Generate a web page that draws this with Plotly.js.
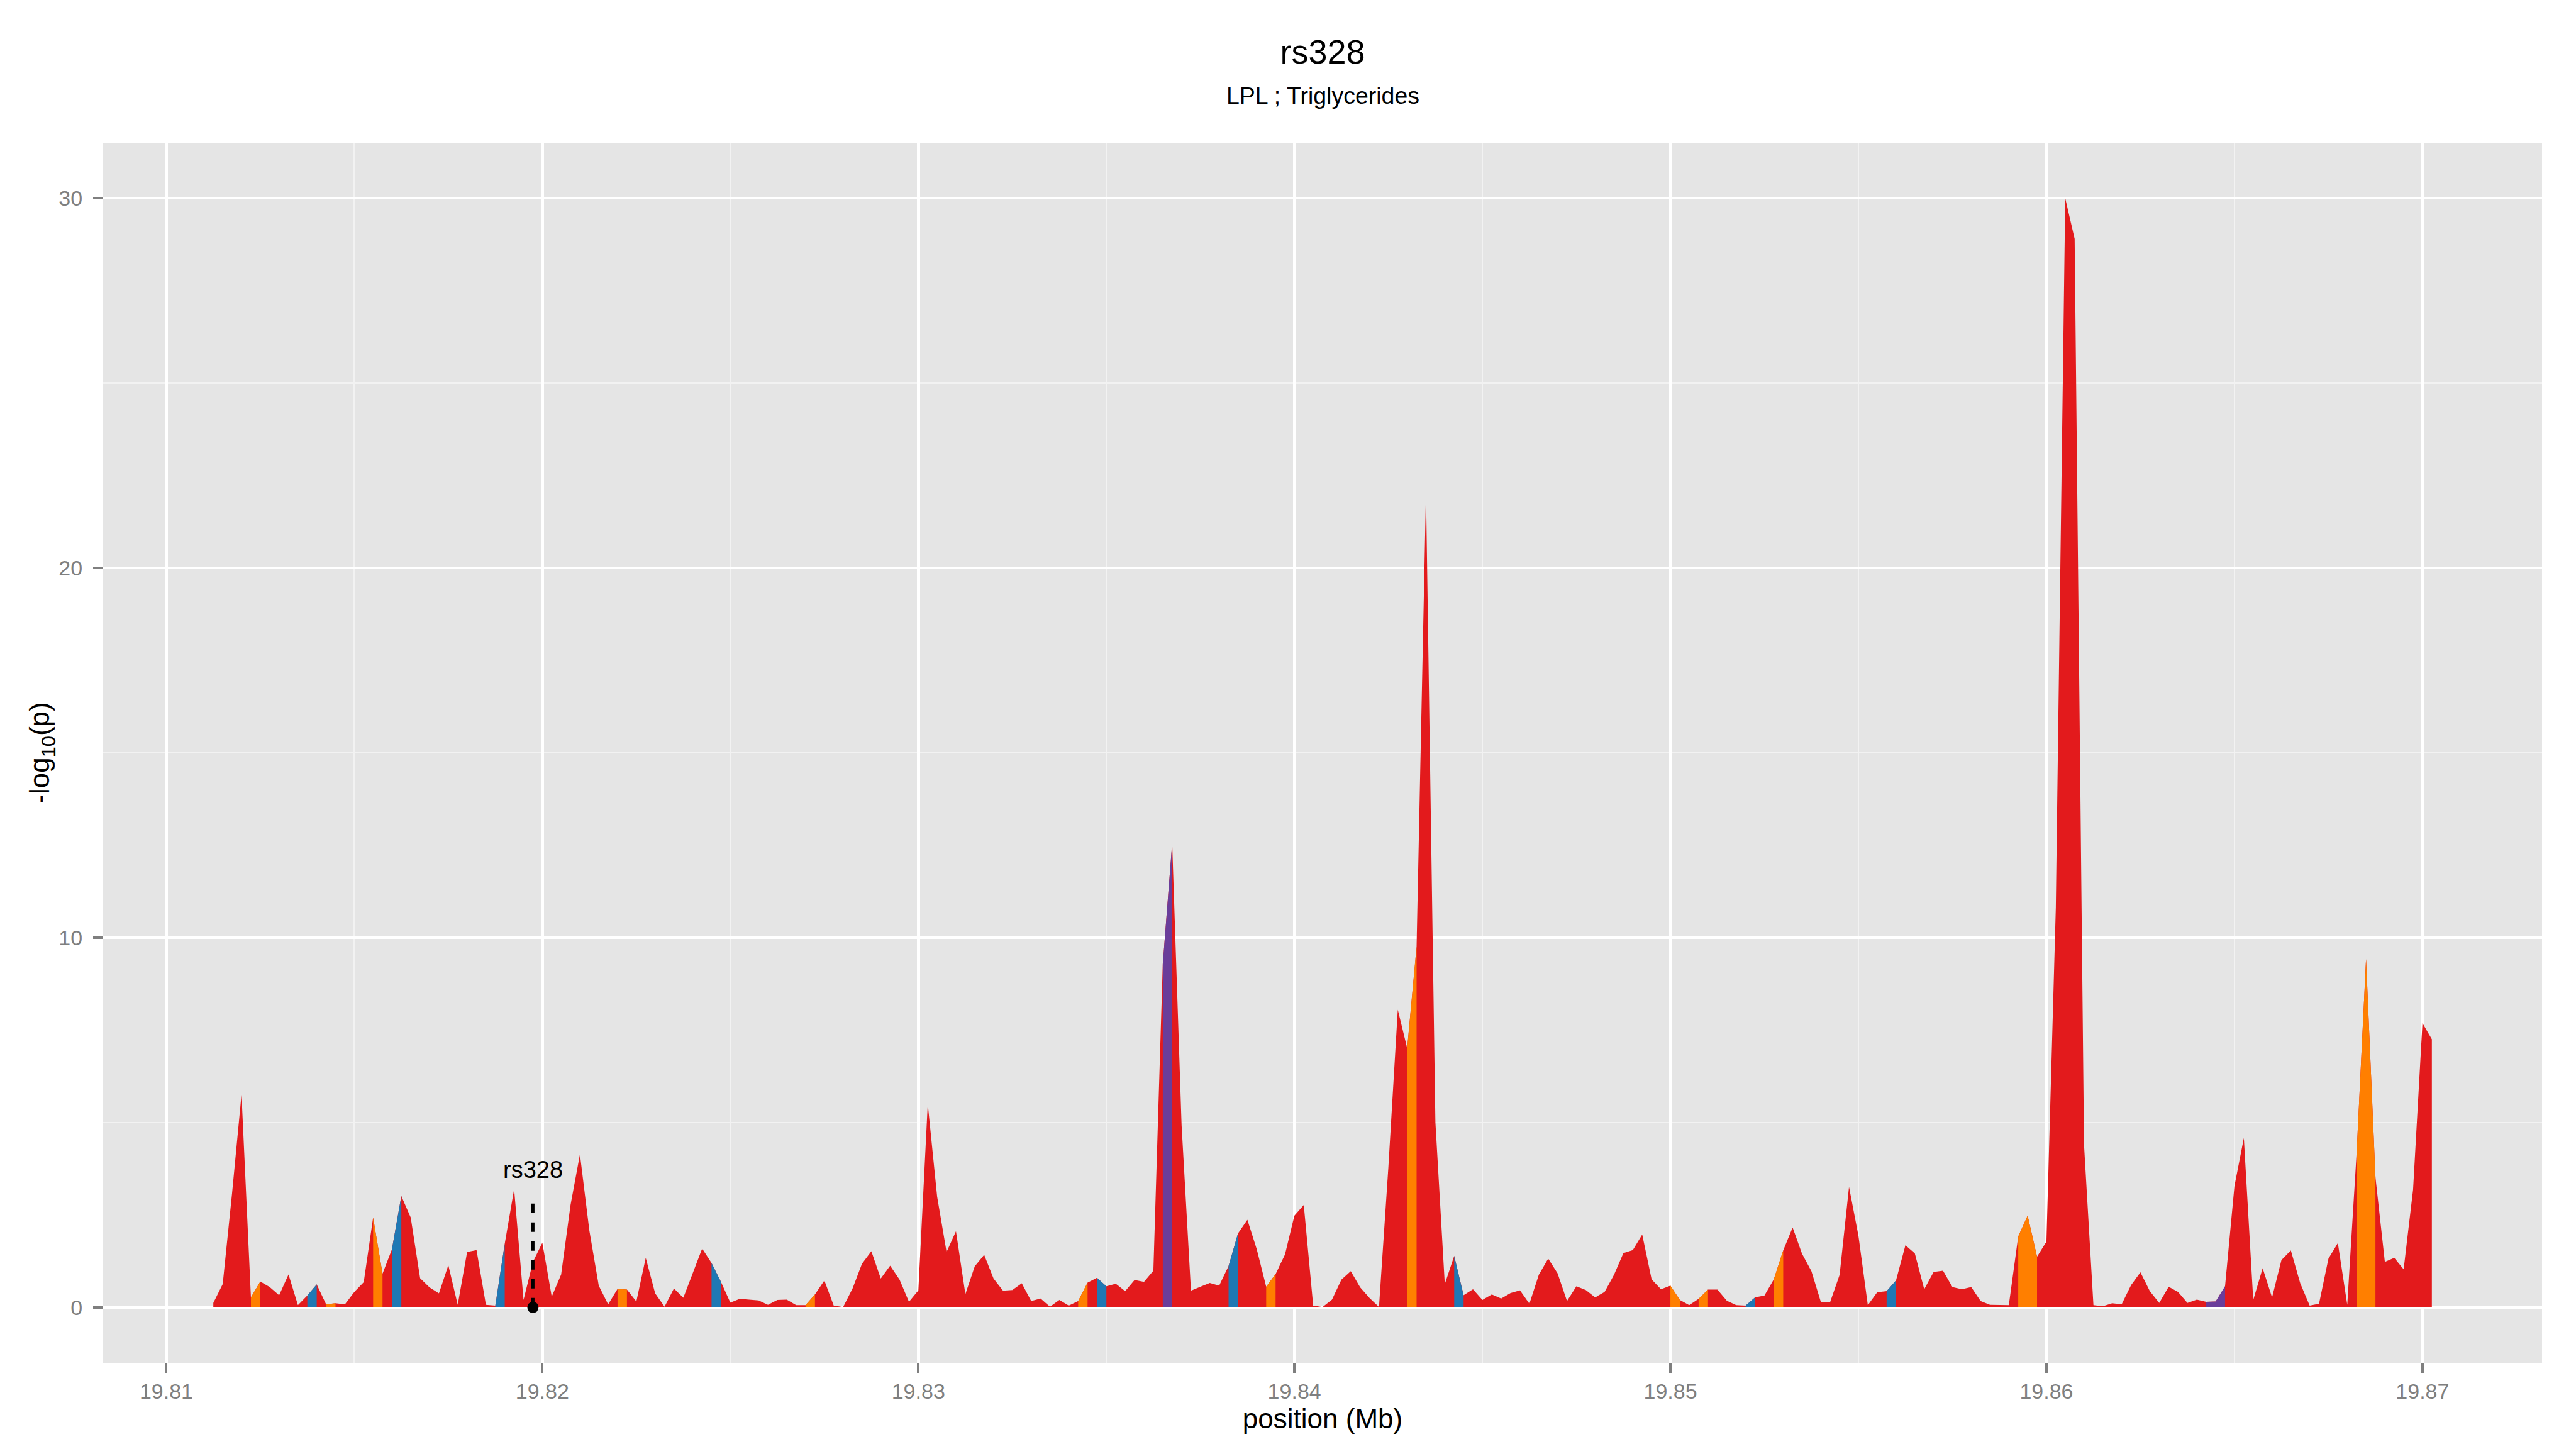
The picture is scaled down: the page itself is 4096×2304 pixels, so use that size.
<!DOCTYPE html>
<html>
<head>
<meta charset="utf-8">
<script src="https://cdn.plot.ly/plotly-3.0.1.min.js"></script>
<style>
html,body{margin:0;padding:0;background:#ffffff;}
#chart{width:4096px;height:2304px;}
</style>
</head>
<body>
<div id="chart"></div>
<script>
// SNP positions (Mb), regular 250 bp grid as plotted
const positions = [
  19.81125,19.8115,19.81175,
  19.812,19.81225,19.8125,19.81275,
  19.813,19.81325,19.8135,19.81375,
  19.814,19.81425,19.8145,19.81475,
  19.815,19.81525,19.8155,19.81575,
  19.816,19.81625,19.8165,19.81675,
  19.817,19.81725,19.8175,19.81775,
  19.818,19.81825,19.8185,19.81875,
  19.819,19.81925,19.8195,19.81975,
  19.820,19.82025,19.8205,19.82075,
  19.821,19.82125,19.8215,19.82175,
  19.822,19.82225,19.8225,19.82275,
  19.823,19.82325,19.8235,19.82375,
  19.824,19.82425,19.8245,19.82475,
  19.825,19.82525,19.8255,19.82575,
  19.826,19.82625,19.8265,19.82675,
  19.827,19.82725,19.8275,19.82775,
  19.828,19.82825,19.8285,19.82875,
  19.829,19.82925,19.8295,19.82975,
  19.830,19.83025,19.8305,19.83075,
  19.831,19.83125,19.8315,19.83175,
  19.832,19.83225,19.8325,19.83275,
  19.833,19.83325,19.8335,19.83375,
  19.834,19.83425,19.8345,19.83475,
  19.835,19.83525,19.8355,19.83575,
  19.836,19.83625,19.8365,19.83675,
  19.837,19.83725,19.8375,19.83775,
  19.838,19.83825,19.8385,19.83875,
  19.839,19.83925,19.8395,19.83975,
  19.840,19.84025,19.8405,19.84075,
  19.841,19.84125,19.8415,19.84175,
  19.842,19.84225,19.8425,19.84275,
  19.843,19.84325,19.8435,19.84375,
  19.844,19.84425,19.8445,19.84475,
  19.845,19.84525,19.8455,19.84575,
  19.846,19.84625,19.8465,19.84675,
  19.847,19.84725,19.8475,19.84775,
  19.848,19.84825,19.8485,19.84875,
  19.849,19.84925,19.8495,19.84975,
  19.850,19.85025,19.8505,19.85075,
  19.851,19.85125,19.8515,19.85175,
  19.852,19.85225,19.8525,19.85275,
  19.853,19.85325,19.8535,19.85375,
  19.854,19.85425,19.8545,19.85475,
  19.855,19.85525,19.8555,19.85575,
  19.856,19.85625,19.8565,19.85675,
  19.857,19.85725,19.8575,19.85775,
  19.858,19.85825,19.8585,19.85875,
  19.859,19.85925,19.8595,19.85975,
  19.860,19.86025,19.8605,19.86075,
  19.861,19.86125,19.8615,19.86175,
  19.862,19.86225,19.8625,19.86275,
  19.863,19.86325,19.8635,19.86375,
  19.864,19.86425,19.8645,19.86475,
  19.865,19.86525,19.8655,19.86575,
  19.866,19.86625,19.8665,19.86675,
  19.867,19.86725,19.8675,19.86775,
  19.868,19.86825,19.8685,19.86875,
  19.869,19.86925,19.8695,19.86975,
  19.870,19.87025
];

// -log10(p) at each position
const neglog10p = [
  0.12,0.63,3.10,
  5.76,0.27,0.70,0.55,
  0.33,0.89,0.06,0.32,
  0.62,0.08,0.11,0.08,
  0.42,0.68,2.43,0.91,
  1.57,3.01,2.43,0.79,
  0.54,0.38,1.14,0.07,
  1.50,1.55,0.07,0.05,
  1.72,3.20,0.20,1.23,
  1.75,0.29,0.89,2.77,
  4.14,2.08,0.59,0.08,
  0.50,0.48,0.16,1.34,
  0.38,0.02,0.51,0.26,
  0.93,1.59,1.20,0.69,
  0.13,0.23,0.21,0.19,
  0.07,0.20,0.21,0.06,
  0.06,0.35,0.73,0.05,
  0.01,0.51,1.18,1.52,
  0.78,1.13,0.75,0.15,
  0.46,5.50,2.99,1.50,
  2.06,0.36,1.11,1.42,
  0.78,0.45,0.47,0.65,
  0.17,0.24,0.02,0.20,
  0.05,0.17,0.67,0.80,
  0.57,0.64,0.44,0.74,
  0.69,0.99,9.28,12.55,
  4.93,0.45,0.56,0.66,
  0.59,1.12,2.00,2.37,
  1.57,0.56,0.90,1.43,
  2.48,2.77,0.05,0.01,
  0.21,0.75,0.98,0.54,
  0.25,0.01,3.80,8.05,
  7.01,9.76,22.05,5.01,
  0.63,1.39,0.33,0.49,
  0.20,0.35,0.24,0.39,
  0.46,0.10,0.88,1.32,
  0.92,0.17,0.57,0.47,
  0.27,0.42,0.88,1.47,
  1.55,1.97,0.76,0.49,
  0.59,0.20,0.06,0.23,
  0.48,0.48,0.18,0.06,
  0.05,0.27,0.32,0.76,
  1.54,2.16,1.45,0.98,
  0.15,0.15,0.88,3.26,
  1.94,0.06,0.41,0.44,
  0.73,1.68,1.46,0.49,
  0.96,0.99,0.55,0.49,
  0.55,0.17,0.07,0.07,
  0.06,1.92,2.48,1.37,
  1.78,10.83,30.00,28.90,
  4.39,0.06,0.03,0.11,
  0.08,0.60,0.95,0.44,
  0.12,0.56,0.42,0.12,
  0.21,0.15,0.16,0.57,
  3.28,4.58,0.20,1.06,
  0.27,1.28,1.54,0.65,
  0.05,0.10,1.32,1.74,
  0.07,4.19,9.42,3.52,
  1.23,1.34,1.03,3.18,
  7.69,7.25
];

// Segments (index of left SNP) coloured by LD class; all others are red
const orangeSegments = [4,12,17,43,63,92,112,127,155,158,166,192,193,228,229];
const blueSegments   = [10,19,30,53,94,108,132,163,178];
const purpleSegments = [101,212,213];

// Labelled SNP
const leadSnpName = "rs328";
const leadSnpPos = 19.81975;
const leadSnpLineTop = 3.0;
const leadSnpLabelY = 3.72;

// Axis ticks
const xTickVals = [19.81,19.82,19.83,19.84,19.85,19.86,19.87];
const xTickLabels = ["19.81","19.82","19.83","19.84","19.85","19.86","19.87"];
const xMinorVals = [19.805,19.815,19.825,19.835,19.845,19.855,19.865,19.875];
const yTickVals = [0,10,20,30];
const yTickLabels = ["0","10","20","30"];
const yMinorVals = [5,15,25];

const titleText = "rs328";
const subtitleText = "LPL ; Triglycerides";

const COL = {red:"#E31A1C", orange:"#FF7F00", blue:"#1F78B4", purple:"#6A3D9A"};

function segmentTrace(idxList, color){
  const xs=[], ys=[];
  idxList.forEach(i=>{
    xs.push(positions[i],positions[i],positions[i+1],positions[i+1],positions[i],null);
    ys.push(0,neglog10p[i],neglog10p[i+1],0,0,null);
  });
  return {type:"scatter", mode:"lines", x:xs, y:ys, fill:"toself", fillcolor:color,
          line:{width:0,color:color}, hoverinfo:"skip", showlegend:false};
}

const traces = [
  {type:"scatter", mode:"lines", x:positions, y:neglog10p, fill:"tozeroy",
   fillcolor:COL.red, line:{width:0,color:COL.red}, hoverinfo:"skip", showlegend:false},
  segmentTrace(orangeSegments, COL.orange),
  segmentTrace(blueSegments, COL.blue),
  segmentTrace(purpleSegments, COL.purple),
  {type:"scatter", mode:"lines", x:[leadSnpPos,leadSnpPos], y:[0,leadSnpLineTop],
   line:{color:"#000000", width:5, dash:"15px,15px"}, hoverinfo:"skip", showlegend:false},
  {type:"scatter", mode:"markers", x:[leadSnpPos], y:[0],
   marker:{color:"#000000", size:18}, hoverinfo:"skip", showlegend:false}
];

const FONT = "Liberation Sans, Arial, Helvetica, sans-serif";

const layout = {
  width:4096, height:2304,
  margin:{l:164, r:54, t:227, b:137, autoexpand:false},
  paper_bgcolor:"#FFFFFF", plot_bgcolor:"#E5E5E5",
  showlegend:false,
  font:{family:FONT, color:"#000000"},
  title:{text:titleText, font:{family:FONT, size:54, color:"#000000"},
         x:0.5, xref:"paper", xanchor:"center",
         y:1-82/2304, yref:"container", yanchor:"middle"},
  xaxis:{
    range:[19.80832,19.87318],
    tickmode:"array", tickvals:xTickVals, ticktext:xTickLabels,
    ticks:"outside", ticklen:15, tickwidth:4, tickcolor:"#7F7F7F",
    tickfont:{family:FONT, size:34, color:"#7F7F7F"},
    showgrid:true, gridcolor:"#FFFFFF", gridwidth:4.5,
    minor:{tickmode:"array", tickvals:xMinorVals, showgrid:true, gridcolor:"#F2F2F2", gridwidth:2.3, ticks:""},
    zeroline:false, showline:false,
    title:{text:"position (Mb)", font:{family:FONT, size:44, color:"#000000"}, standoff:6}
  },
  yaxis:{
    range:[-1.5,31.5],
    tickmode:"array", tickvals:yTickVals, ticktext:yTickLabels,
    ticks:"outside", ticklen:15, tickwidth:4, tickcolor:"#7F7F7F",
    tickfont:{family:FONT, size:34, color:"#7F7F7F"},
    ticklabelstandoff:10,
    showgrid:true, gridcolor:"#FFFFFF", gridwidth:4.5,
    minor:{tickmode:"array", tickvals:yMinorVals, showgrid:true, gridcolor:"#F2F2F2", gridwidth:2.3, ticks:""},
    zeroline:false, showline:false,
    title:{text:"-log<sub>10</sub>(p)", font:{family:FONT, size:44, color:"#000000"}, standoff:0}
  },
  annotations:[
    {text:subtitleText, xref:"paper", x:0.5, xanchor:"center",
     yref:"paper", y:(2167.5-152)/(2167.5-226.9), yanchor:"middle",
     showarrow:false, font:{family:FONT, size:37.5, color:"#000000"}},
    {text:leadSnpName, xref:"x", x:leadSnpPos, xanchor:"center",
     yref:"y", y:leadSnpLabelY, yanchor:"middle",
     showarrow:false, font:{family:FONT, size:38, color:"#000000"}}
  ]
};

Plotly.newPlot("chart", traces, layout, {staticPlot:true, displayModeBar:false});
</script>
</body>
</html>
